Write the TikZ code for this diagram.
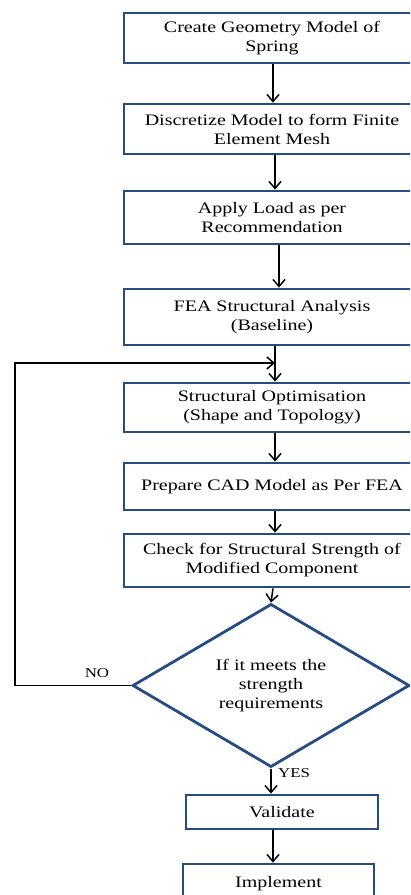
\documentclass[tikz,border=0pt]{standalone}
\usepackage{fontspec}
\setmainfont{Liberation Serif}[FakeStretch=1.25]
\usetikzlibrary{shapes.geometric,arrows.meta}
\definecolor{boxblue}{RGB}{38,76,130}
\tikzset{
  stepbox/.style={draw=boxblue, line width=2.8pt, rectangle, minimum width=296pt,
    inner sep=0pt, align=center, font=\fontsize{16}{19}\selectfont, fill=white},
  smallbox/.style={stepbox, minimum width=192pt},
  decision/.style={draw=boxblue, line width=2.8pt, diamond, minimum width=277pt,
    minimum height=153pt, inner sep=0pt, align=center, font=\fontsize{16}{19}\selectfont, fill=white},
  arr/.style={line width=1.5pt, -{Straight Barb[length=7pt,width=12pt,line width=1.5pt]}},
  lbl/.style={font=\fontsize{13.5}{16}\selectfont, inner sep=0pt}
}
\begin{document}
\begin{tikzpicture}[x=1pt,y=-1pt]
\useasboundingbox (0,0) rectangle (410,895);
\clip (0,0) rectangle (410,895);
\node[stepbox, minimum height=50pt] (b1) at (272,38) {Create Geometry Model of\\Spring};
\node[stepbox, minimum height=50pt] (b2) at (272,129) {Discretize Model to form Finite\\Element Mesh};
\node[stepbox, minimum height=53pt] (b3) at (272,217.5) {Apply Load as per\\Recommendation};
\node[stepbox, minimum height=56pt] (b4) at (272,317) {FEA Structural Analysis\\(Baseline)};
\node[stepbox, minimum height=49pt] (b5) at (272,407.5) {Structural Optimisation\\(Shape and Topology)};
\node[stepbox, minimum height=47pt] (b6) at (272,486.5) {Prepare CAD Model as Per FEA};
\node[stepbox, minimum height=53pt] (b7) at (272,560.5) {Check for Structural Strength of\\Modified Component};
\node[decision] (d) at (271,685.5) {If it meets the\\strength\\requirements};
\node[smallbox, minimum height=34pt] (v) at (282,812) {Validate};
\node[smallbox, minimum width=191pt, minimum height=40pt] (im) at (278.5,884) {\raisebox{4pt}{Implement}};

\draw[arr] ([xshift=1pt]b1.south) -- ([xshift=1pt]b2.north);
\draw[arr] ([xshift=3pt]b2.south) -- ([xshift=3pt]b3.north);
\draw[arr] ([xshift=7pt]b3.south) -- ([xshift=7pt]b4.north);
\draw[arr] ([xshift=3pt]b4.south) -- ([xshift=3pt]b5.north);
\draw[arr] ([xshift=3pt]b5.south) -- ([xshift=3pt]b6.north);
\draw[arr] ([xshift=3pt]b6.south) -- ([xshift=3pt]b7.north);
\draw[arr] ([xshift=1pt]b7.south) -- (d.north);
\draw[arr] (d.south) -- (d.south |- v.north);
\draw[arr] ([xshift=-9pt]v.south) -- ([xshift=-5.5pt]im.north);

\coordinate (lc) at (15,687);
\coordinate (merge) at (275,363);
\draw[line width=1.5pt] (d.west) -- (d.west -| lc);
\draw[arr] (d.west -| lc) |- (merge);

\node[lbl] (no) at (97,673) {NO};
\node[lbl, anchor=west] (yes) at (278,773) {YES};
\end{tikzpicture}
\end{document}
